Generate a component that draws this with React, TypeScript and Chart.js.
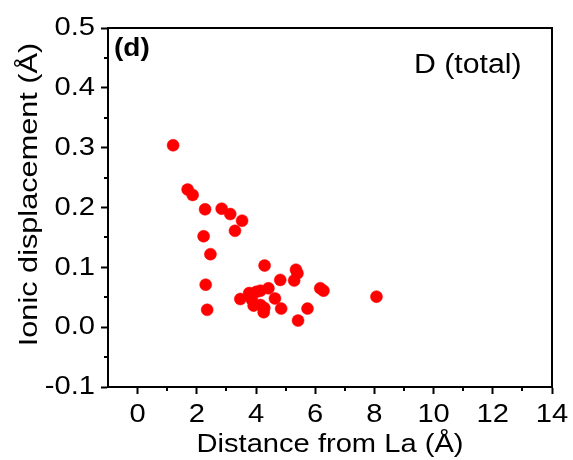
import React, { useEffect, useRef } from "react";
import { Chart, registerables } from "chart.js";

Chart.register(...registerables);

const X_VALUES = [1.2, 1.69, 1.86, 2.28, 2.84, 3.13, 3.53, 3.29, 2.23, 2.46, 4.29, 5.35, 5.4, 5.29, 4.82, 2.3, 6.17, 6.28, 8.07, 4.42, 4.15, 3.77, 3.47, 4.64, 3.86, 3.92, 4.15, 4.28, 4.26, 4.85, 5.74, 2.35, 5.42, 4.01];
const Y_VALUES = [0.304, 0.23, 0.221, 0.197, 0.198, 0.189, 0.178, 0.161, 0.152, 0.122, 0.103, 0.096, 0.09, 0.078, 0.079, 0.071, 0.065, 0.061, 0.051, 0.065, 0.061, 0.057, 0.047, 0.048, 0.046, 0.036, 0.037, 0.032, 0.025, 0.031, 0.031, 0.029, 0.011, 0.059];

const X_TICKS = [0, 2, 4, 6, 8, 10, 12, 14];
const X_MINOR = [1, 3, 5, 7, 9, 11, 13];
const Y_TICKS = [-0.1, 0, 0.1, 0.2, 0.3, 0.4, 0.5];
const Y_MINOR = [-0.05, 0.05, 0.15, 0.25, 0.35, 0.45];

const X_TITLE = "Distance from La (Å)";
const Y_TITLE = "Ionic displacement (Å)";
const PANEL_LABEL = "(d)";
const SERIES_LABEL = "D (total)";

const FONT = "'Liberation Sans', Arial, sans-serif";
const STRETCH = 1.12;

function drawText(
  ctx: CanvasRenderingContext2D,
  text: string,
  x: number,
  y: number,
  font: string,
  align: CanvasTextAlign,
  baseline: CanvasTextBaseline,
  rotation = 0,
  stretch = STRETCH
) {
  ctx.save();
  ctx.translate(x, y);
  if (rotation) ctx.rotate(rotation);
  ctx.scale(stretch, 1);
  ctx.font = font;
  ctx.textAlign = align;
  ctx.textBaseline = baseline;
  ctx.fillStyle = "#000";
  ctx.fillText(text, 0, 0);
  ctx.restore();
}

const framePlugin = {
  id: "frame",
  afterDraw(chart: any) {
    const { ctx, chartArea, scales } = chart;
    const { left, right, top, bottom } = chartArea;
    ctx.save();
    ctx.strokeStyle = "#000";
    ctx.lineWidth = 2;
    ctx.strokeRect(left, top, right - left, bottom - top);
    ctx.beginPath();
    X_MINOR.forEach((v) => {
      const px = Math.round(scales.x.getPixelForValue(v));
      ctx.moveTo(px, bottom);
      ctx.lineTo(px, bottom + 4);
    });
    Y_MINOR.forEach((v) => {
      const py = Math.round(scales.y.getPixelForValue(v));
      ctx.moveTo(left, py);
      ctx.lineTo(left - 4, py);
    });
    ctx.stroke();
    ctx.restore();

    const tickFont = `26px ${FONT}`;
    X_TICKS.forEach((v) => {
      drawText(ctx, String(v), scales.x.getPixelForValue(v), bottom + 35, tickFont, "center", "alphabetic");
    });
    Y_TICKS.forEach((v) => {
      drawText(ctx, v.toFixed(1), left - 13, scales.y.getPixelForValue(v), tickFont, "right", "middle");
    });
    drawText(ctx, X_TITLE, (left + right) / 2, bottom + 65, `26px ${FONT}`, "center", "alphabetic");
    drawText(ctx, Y_TITLE, 37, (top + bottom) / 2 - 13, `26px ${FONT}`, "center", "alphabetic", -Math.PI / 2, 1.18);
    drawText(ctx, PANEL_LABEL, left + 6, top + 28, `bold 25px ${FONT}`, "left", "alphabetic");
    drawText(ctx, SERIES_LABEL, left + 306, top + 45, `27px ${FONT}`, "left", "alphabetic");
  },
};

export default function App() {
  const ref = useRef<HTMLCanvasElement>(null);
  useEffect(() => {
    if (!ref.current) return;
    const chart = new Chart(ref.current, {
      type: "scatter",
      data: {
        datasets: [
          {
            label: SERIES_LABEL,
            data: X_VALUES.map((x, i) => ({ x, y: Y_VALUES[i] })),
            backgroundColor: "#ff0000",
            borderColor: "#ff0000",
            borderWidth: 0.5,
            pointRadius: 6,
          },
        ],
      },
      options: {
        responsive: false,
        animation: false,
        devicePixelRatio: 1,
        layout: { padding: { top: 28, right: 21, left: 0, bottom: 0 } },
        plugins: { legend: { display: false }, tooltip: { enabled: false } },
        scales: {
          x: {
            type: "linear",
            min: -1,
            max: 14,
            afterBuildTicks: (s: any) => {
              s.ticks = X_TICKS.map((v) => ({ value: v }));
            },
            afterFit: (s: any) => {
              s.height = 73;
            },
            ticks: { display: false },
            grid: {
              drawOnChartArea: false,
              drawTicks: true,
              tickLength: 7,
              tickWidth: 2,
              tickColor: "#000",
            },
            border: { display: true, color: "#000", width: 2 },
            title: { display: false },
          },
          y: {
            type: "linear",
            min: -0.1,
            max: 0.5,
            afterBuildTicks: (s: any) => {
              s.ticks = Y_TICKS.map((v) => ({ value: v }));
            },
            afterFit: (s: any) => {
              s.width = 108;
            },
            ticks: { display: false },
            grid: {
              drawOnChartArea: false,
              drawTicks: true,
              tickLength: 7,
              tickWidth: 2,
              tickColor: "#000",
            },
            border: { display: true, color: "#000", width: 2 },
            title: { display: false },
          },
        },
      },
      plugins: [framePlugin],
    } as any);
    return () => chart.destroy();
  }, []);
  return (
    <div style={{ position: "fixed", left: 0, top: 0, width: 573, height: 460, background: "#fff" }}>
      <canvas ref={ref} width={573} height={460} style={{ width: 573, height: 460 }} />
    </div>
  );
}
